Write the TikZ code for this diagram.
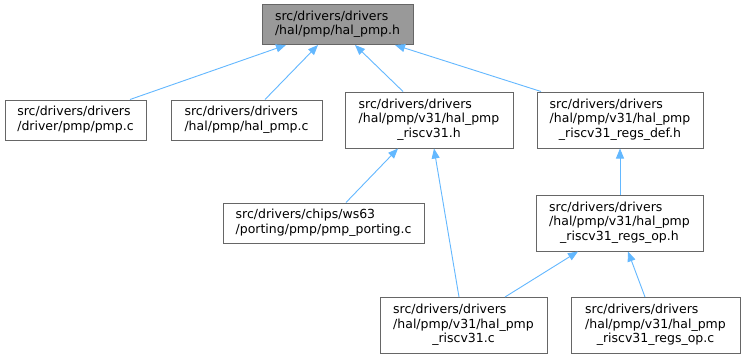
\documentclass[tikz,border=0pt]{standalone}
\usepackage{fontspec}
\setmainfont{DejaVu Sans}
\usetikzlibrary{arrows.meta}
\definecolor{edgeblue}{HTML}{63B8FF}
\definecolor{boxgray}{HTML}{666666}
\definecolor{topfill}{HTML}{999999}
\newcommand{\twolbl}[2]{{\fontsize{12.5}{14.5}\selectfont\begin{tabular}{@{}l@{}}#1\\\multicolumn{1}{@{}c@{}}{#2}\end{tabular}}}
\newcommand{\threelbl}[3]{{\fontsize{12.5}{14.5}\selectfont\begin{tabular}{@{}l@{}}#1\\#2\\\multicolumn{1}{@{}c@{}}{#3}\end{tabular}}}
\tikzset{
  filebox/.style={draw=boxgray, fill=white, line width=1pt, inner sep=0pt, rectangle, text=black},
  dep/.style={draw=edgeblue, line width=0.9pt, -{Triangle[length=10pt,width=8pt,fill=edgeblue]}}
}
\begin{document}
\begin{tikzpicture}[x=1pt,y=-1pt]
\useasboundingbox[fill=white] (0,0) rectangle (743,359);
\node[filebox, fill=topfill, minimum width=151, minimum height=40] (n1) at (337.5,24.5)
  {\twolbl{src/drivers/drivers}{/hal/pmp/hal\_pmp.h}};
\node[filebox, minimum width=141, minimum height=40] (n2) at (75.5,120)
  {\twolbl{src/drivers/drivers}{/driver/pmp/pmp.c}};
\node[filebox, minimum width=151, minimum height=40] (n3) at (246.5,120)
  {\twolbl{src/drivers/drivers}{/hal/pmp/hal\_pmp.c}};
\node[filebox, minimum width=168, minimum height=56] (n4) at (429,120)
  {\threelbl{src/drivers/drivers}{/hal/pmp/v31/hal\_pmp}{\_riscv31.h}};
\node[filebox, minimum width=166, minimum height=56] (n5) at (620,120)
  {\threelbl{src/drivers/drivers}{/hal/pmp/v31/hal\_pmp}{\_riscv31\_regs\_def.h}};
\node[filebox, minimum width=201, minimum height=40] (n6) at (323.5,223)
  {\twolbl{src/drivers/chips/ws63}{/porting/pmp/pmp\_porting.c}};
\node[filebox, minimum width=167, minimum height=56] (n7) at (619.5,223)
  {\threelbl{src/drivers/drivers}{/hal/pmp/v31/hal\_pmp}{\_riscv31\_regs\_op.h}};
\node[filebox, minimum width=167, minimum height=56] (n8) at (463.5,325.5)
  {\threelbl{src/drivers/drivers}{/hal/pmp/v31/hal\_pmp}{\_riscv31.c}};
\node[filebox, minimum width=169, minimum height=56] (n9) at (655.5,325.5)
  {\threelbl{src/drivers/drivers}{/hal/pmp/v31/hal\_pmp}{\_riscv31\_regs\_op.c}};
\draw[dep] ([xshift=54.5pt]n2.north) -- ([xshift=-51.5pt]n1.south);
\draw[dep] ([xshift=18.5pt]n3.north) -- ([xshift=-19.5pt]n1.south);
\draw[dep] ([xshift=-26pt]n4.north) -- ([xshift=17.5pt]n1.south);
\draw[dep] ([xshift=-79pt]n5.north) -- ([xshift=57.5pt]n1.south);
\draw[dep] ([xshift=22.5pt]n6.north) -- ([xshift=-31pt]n4.south);
\draw[dep] ([xshift=-4.5pt]n8.north) -- ([xshift=5pt]n4.south);
\draw[dep] ([xshift=0.5pt]n7.north) -- (n5.south);
\draw[dep] ([xshift=41.5pt]n8.north) -- ([xshift=-41.5pt]n7.south);
\draw[dep] ([xshift=-10.5pt]n9.north) -- ([xshift=8.5pt]n7.south);
\end{tikzpicture}
\end{document}
